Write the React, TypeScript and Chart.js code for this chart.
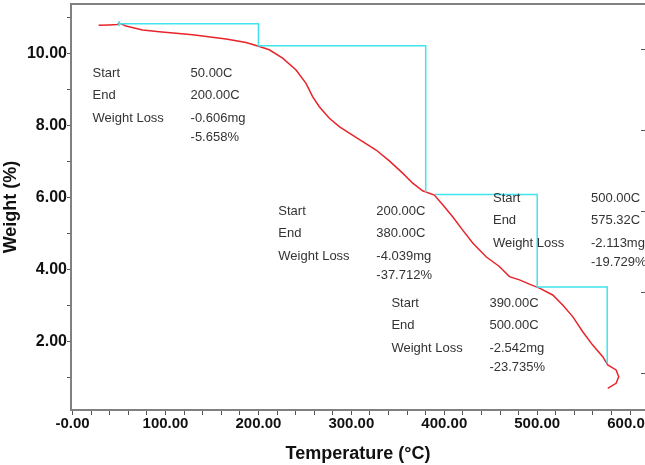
import React, { useEffect, useRef } from 'react';
import { Chart, registerables } from 'chart.js';

Chart.register(...registerables);

// TGA curve (temperature °C, weight)
const temps = [28.0, 39.5, 48.1, 50.3, 57.5, 75.3, 93.3, 129.2, 165.1, 186.7, 201.0, 211.7, 226.0, 240.5, 251.2, 258.3, 265.5, 276.3, 287.0, 297.8, 312.2, 326.6, 340.9, 355.2, 366.0, 376.7, 389.3, 398.3, 409.0, 419.8, 430.6, 445.0, 459.3, 470.1, 480.9, 491.6, 502.4, 516.7, 527.4, 538.2, 549.0, 559.7, 570.5, 575.9, 584.9, 587.7, 584.9, 575.9];
const weights = [10.78, 10.79, 10.80, 10.84, 10.76, 10.65, 10.60, 10.52, 10.40, 10.30, 10.19, 10.10, 9.87, 9.54, 9.17, 8.80, 8.52, 8.20, 7.97, 7.79, 7.55, 7.32, 7.02, 6.68, 6.40, 6.19, 6.07, 5.80, 5.47, 5.10, 4.74, 4.36, 4.09, 3.81, 3.72, 3.60, 3.49, 3.30, 3.02, 2.70, 2.28, 1.91, 1.59, 1.36, 1.22, 1.03, 0.85, 0.71];

// Step (analysis) lines, null = break
const stepTemps = [50, 50, 50, 50, 200, 200, 380, 380, 380, 390, 500, 500, 575.32, 575.32];
const stepWeights = [10.90, 10.75, null, 10.82, 10.82, 10.21, 10.21, 6.14, null, 6.09, 6.09, 3.52, 3.52, 1.40];

// Axis ticks
const xTickLabels = ['-0.00', '100.00', '200.00', '300.00', '400.00', '500.00', '600.00'];
const yTickValues = [2, 4, 6, 8, 10];
const yTickLabels = ['2.00', '4.00', '6.00', '8.00', '10.00'];
const rightTickValues = [1, 2, 3, 4, 5];

// Annotations
const annRowLabels = ['Start', 'End', 'Weight Loss'];
const annStart = ['50.00C', '200.00C', '500.00C', '390.00C'];
const annEnd = ['200.00C', '380.00C', '575.32C', '500.00C'];
const annLossMg = ['-0.606mg', '-4.039mg', '-2.113mg', '-2.542mg'];
const annLossPct = ['-5.658%', '-37.712%', '-19.729%', '-23.735%'];
const annAnchorT = [21.5, 221.4, 452.4, 343.1];
const annAnchorW = [9.45, 5.63, 5.98, 3.07];

const annotationPlugin = {
  id: 'tgaAnnotations',
  afterDatasetsDraw(chart: any) {
    const { ctx, scales } = chart;
    const xs = scales.x;
    const ys = scales.y;
    const rowOff = [0, 22.5, 45.5, 64.5];
    ctx.save();
    ctx.font = '13px "Liberation Sans", Arial, sans-serif';
    ctx.fillStyle = '#333333';
    ctx.textBaseline = 'middle';
    ctx.textAlign = 'left';
    for (let i = 0; i < annStart.length; i++) {
      const x0 = xs.getPixelForValue(annAnchorT[i]);
      const y0 = ys.getPixelForValue(annAnchorW[i]);
      annRowLabels.forEach((t, r) => ctx.fillText(t, x0, y0 + rowOff[r]));
      const vx = x0 + 98;
      ctx.fillText(annStart[i], vx, y0 + rowOff[0]);
      ctx.fillText(annEnd[i], vx, y0 + rowOff[1]);
      ctx.fillText(annLossMg[i], vx, y0 + rowOff[2]);
      ctx.fillText(annLossPct[i], vx, y0 + rowOff[3]);
    }
    ctx.restore();
  },
  afterDraw(chart: any) {
    const { ctx, scales, chartArea } = chart;
    const y2 = scales.y2;
    ctx.save();
    ctx.strokeStyle = '#555555';
    ctx.lineWidth = 1;
    rightTickValues.forEach((v) => {
      const py = Math.round(y2.getPixelForValue(v)) + 0.5;
      ctx.beginPath();
      ctx.moveTo(chartArea.right - 4, py);
      ctx.lineTo(chartArea.right, py);
      ctx.stroke();
    });
    ctx.restore();
  },
};

export default function App() {
  const canvasRef = useRef<HTMLCanvasElement>(null);

  useEffect(() => {
    if (!canvasRef.current) return;
    const curve = temps.map((t, i) => ({ x: t, y: weights[i] }));
    const steps = stepTemps.map((t, i) => ({ x: t, y: stepWeights[i] }));
    const tickFont = { family: '"Liberation Sans", Arial, sans-serif', weight: 'bold' as const };
    const chart = new Chart(canvasRef.current, {
      type: 'scatter',
      data: {
        datasets: [
          {
            data: steps as any,
            showLine: true,
            borderColor: '#40e4ee',
            borderWidth: 1.5,
            pointRadius: 0,
            spanGaps: false,
            tension: 0,
          },
          {
            data: curve,
            showLine: true,
            borderColor: '#e8242a',
            borderWidth: 1.5,
            pointRadius: 0,
            tension: 0,
          },
        ],
      },
      options: {
        animation: false,
        responsive: true,
        maintainAspectRatio: false,
        devicePixelRatio: 1,
        layout: { padding: { top: 4, left: 0, right: 0, bottom: 0 } },
        plugins: { legend: { display: false }, tooltip: { enabled: false } },
        scales: {
          x: {
            type: 'linear',
            position: 'bottom',
            min: -1.7,
            max: 616,
            afterFit: (s: any) => { s.height = 55; s.paddingLeft = 0; s.paddingRight = 0; },
            ticks: {
              stepSize: 20,
              includeBounds: false,
              autoSkip: false,
              maxRotation: 0,
              padding: 0,
              color: '#111111',
              font: { ...tickFont, size: 15 },
              callback: (v: any) => {
                const n = Number(v);
                return Math.abs(n % 100) < 1e-6 ? xTickLabels[Math.round(n / 100)] : '';
              },
            },
            grid: {
              drawOnChartArea: false,
              drawTicks: true,
              tickLength: 5,
              tickColor: '#555555',
              tickWidth: 1,
            },
            border: { color: '#808080', width: 2 },
            title: {
              display: true,
              text: 'Temperature (°C)',
              color: '#111111',
              font: { ...tickFont, size: 18 },
              padding: { top: 0, bottom: 0 },
            },
          },
          x2: {
            type: 'linear',
            position: 'top',
            display: true,
            afterFit: (s: any) => { s.height = 0; s.paddingLeft = 0; s.paddingRight = 0; },
            ticks: { display: false },
            grid: { drawOnChartArea: false, drawTicks: false },
            border: { color: '#808080', width: 2 },
          },
          y: {
            type: 'linear',
            position: 'left',
            min: 0.11,
            max: 11.37,
            afterFit: (s: any) => { s.width = 71; s.paddingTop = 0; s.paddingBottom = 0; },
            ticks: {
              stepSize: 1,
              includeBounds: false,
              autoSkip: false,
              padding: 0,
              color: '#111111',
              font: { ...tickFont, size: 16 },
              callback: (v: any) => {
                const idx = yTickValues.indexOf(Math.round(Number(v)));
                return idx >= 0 && Math.abs(Number(v) - Math.round(Number(v))) < 1e-6 ? yTickLabels[idx] : '';
              },
            },
            grid: {
              drawOnChartArea: false,
              drawTicks: true,
              tickLength: 4,
              tickColor: '#555555',
              tickWidth: 1,
            },
            border: { color: '#808080', width: 2 },
            title: {
              display: true,
              text: 'Weight (%)',
              color: '#111111',
              font: { ...tickFont, size: 18 },
              padding: { top: 0, bottom: 0 },
            },
          },
          y2: {
            type: 'linear',
            position: 'right',
            display: false,
            min: 0.543,
            max: 5.555,
          },
        },
      },
      plugins: [annotationPlugin],
    });
    return () => chart.destroy();
  }, []);

  return (
    <div style={{ position: 'fixed', left: 0, top: 0, width: 645, height: 465, background: '#ffffff' }}>
      <canvas ref={canvasRef} />
    </div>
  );
}
